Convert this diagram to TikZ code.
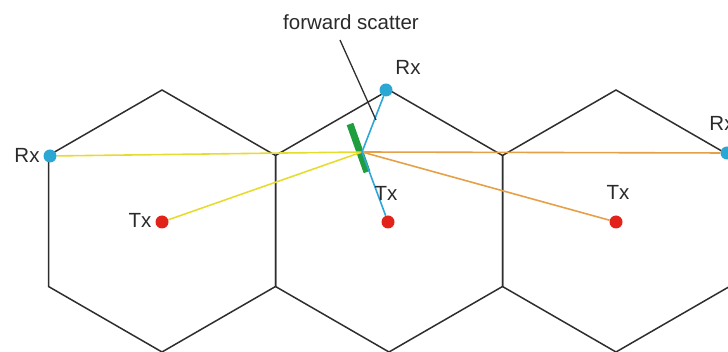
\documentclass[tikz,border=0pt]{standalone}
\usepackage{fontspec}
\setmainfont{Liberation Sans}
\usetikzlibrary{backgrounds}
\definecolor{hexc}{HTML}{2E2E2E}
\definecolor{rxc}{HTML}{2AA7D2}
\definecolor{txc}{HTML}{E2231A}
\definecolor{ylw}{HTML}{E6DC2E}
\definecolor{org}{HTML}{E5A048}
\definecolor{blu}{HTML}{2FA6D8}
\definecolor{grn}{HTML}{1E9E3E}
\definecolor{txtc}{HTML}{2A2A2A}
\begin{document}
\begin{tikzpicture}[x=1pt,y=-1pt,
  hexline/.style={draw=hexc,line width=1.5pt,line join=miter},
  rxdot/.style={circle,fill=rxc,minimum size=13pt,inner sep=0pt},
  txdot/.style={circle,fill=txc,minimum size=13pt,inner sep=0pt},
  lbl/.style={text=txtc,inner sep=0pt,font=\fontsize{20.5}{24}\selectfont},
  ray/.style={line width=1.6pt}]
\useasboundingbox (0,0) rectangle (728,352);
% dots
\node[rxdot] (rxL) at (50,156) {};
\node[rxdot] (rxT) at (386,90) {};
\node[rxdot] (rxR) at (727,153) {};
\node[txdot] (txL) at (162,222) {};
\node[txdot] (txM) at (388,222) {};
\node[txdot] (txR) at (616,222) {};
\coordinate (S) at (362,152);
% labels
\node[lbl] (lrxL) at (27,155) {Rx};
\node[lbl] (lrxT) at (408,67) {Rx};
\node[lbl] (lrxR) at (722,123) {Rx};
\node[lbl] (ltxL) at (140,220) {Tx};
\node[lbl] (ltxM) at (386,193) {Tx};
\node[lbl] (ltxR) at (618,192) {Tx};
\node[lbl] (fs) at (351,22) {forward scatter};
\coordinate (fsA) at (340,40);
\coordinate (fsB) at (376,120);
\begin{scope}[on background layer]
  \foreach \c in {162,389,616}
    \draw[hexline] (\c,90) -- (\c+113.5,155.5) -- (\c+113.5,286.5) -- (\c,352)
      -- (\c-113.5,286.5) -- (\c-113.5,155.5) -- cycle;
  \draw[grn,line width=7pt] (350,124) -- (367,172);
  \draw[ray,ylw] (rxL) -- (S) -- (txL);
  \draw[ray,org] (rxR) -- (S) -- (txR);
  \draw[ray,blu] (rxT) -- (S) -- (txM);
  \draw[hexc,line width=1.3pt] (fsA) -- (fsB);
\end{scope}
\end{tikzpicture}
\end{document}
